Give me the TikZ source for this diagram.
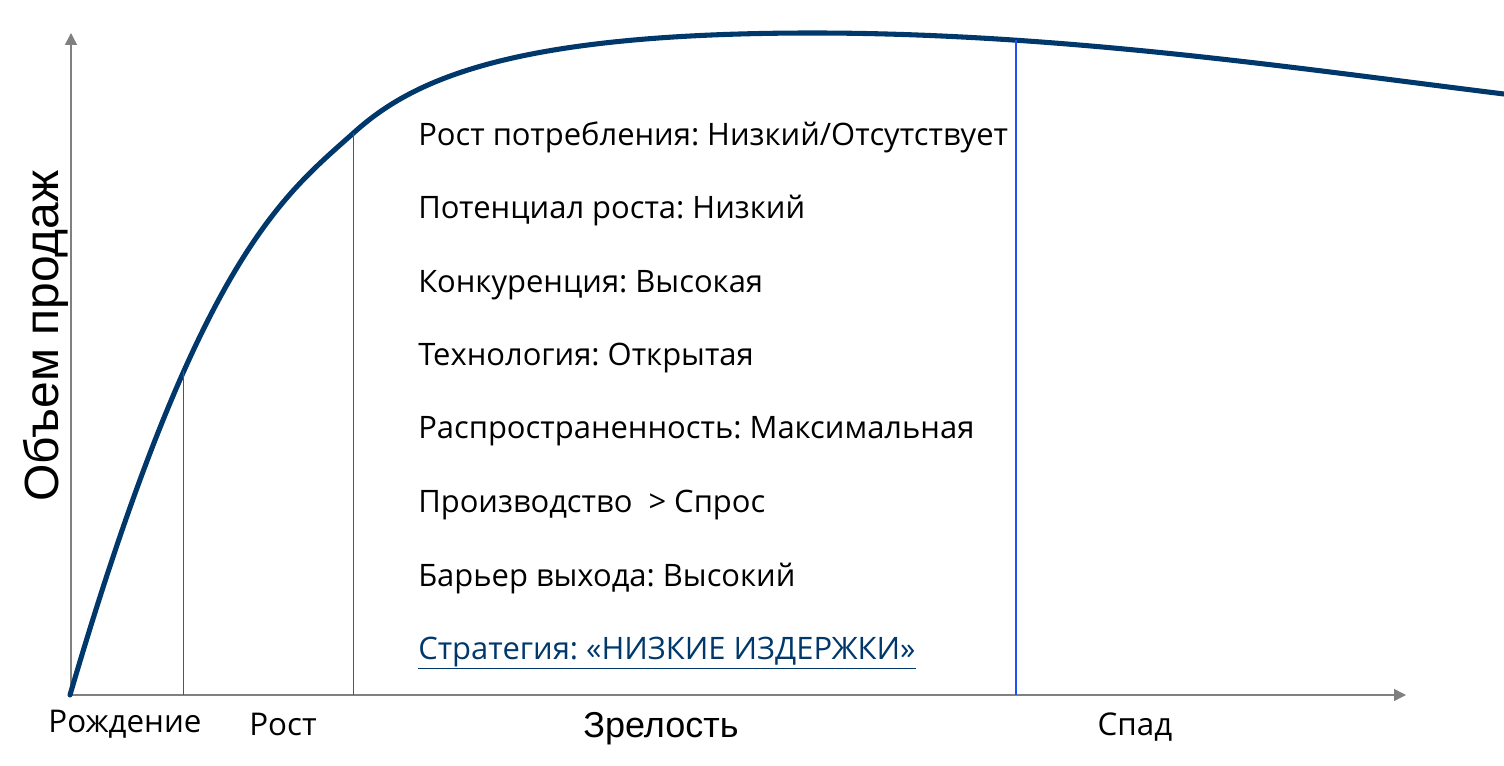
\documentclass[tikz,border=0pt]{standalone}
\usepackage{fontspec}
\setmainfont{Open Sans}
\newfontfamily\axisfont{Liberation Sans}
\usetikzlibrary{arrows.meta}
\definecolor{curveNavy}{HTML}{00386B}
\definecolor{stageBlue}{HTML}{1F50F5}
\definecolor{axisGray}{HTML}{808080}
\frenchspacing

\begin{document}
\begin{tikzpicture}[
    x=0.75pt, y=-0.75pt,
    axis/.style={draw=axisGray, line width=1.1pt,
                 -{Triangle[length=9pt, width=9pt]}},
    curve/.style={draw=curveNavy, line width=3.8pt, line cap=round},
    stage/.style={draw=stageBlue, line width=1.2pt},
    fact/.style={anchor=base west, inner sep=0pt, font=\fontsize{23.2}{27}\selectfont},
    phase/.style={anchor=base, inner sep=0pt, font=\fontsize{23.5}{27}\selectfont},
  ]
    \useasboundingbox (0,0) rectangle (1504,766);

    \coordinate (o)  at (71,695);
    \coordinate (yt) at (71,33);
    \coordinate (xt) at (1406,695);
    \coordinate (c2) at (353.5,133);
    \coordinate (top) at (813,33);

    \draw[axis] (o) -- (yt);
    \draw[axis] (o) -- (xt);

    \draw[curve] (70,695) .. controls (198,258) and (283,196) .. coordinate[pos=0.33] (c1) (c2)
                 .. controls (413,79) and (513,33) .. (top)
                 .. controls (1063,33) and (1304,69.4) .. coordinate[pos=0.274] (c3) (1504,94);

    \draw[stage] (c1) -- (c1 |- o);
    \draw[stage] (c2) -- (c2 |- o);
    \draw[stage] (c3) -- (c3 |- o);

    \node[anchor=base, rotate=90, inner sep=0pt,
          font=\axisfont\fontsize{36}{40}\selectfont] (ylbl) at (58,336) {Объем продаж};

    \node[phase] (birth)  at (125,732) {Рождение};
    \node[phase] (growth) at (283,735) {Рост};
    \node[phase, font=\axisfont\fontsize{27}{30}\selectfont] (mature) at (661,737) {Зрелость};
    \node[phase] (decl)   at (1135,735) {Спад};

    \node[fact] (f1) at (418,146) {Рост потребления: Низкий/Отсутствует};
    \node[fact] (f2) at (418,219) {Потенциал роста: Низкий};
    \node[fact] (f3) at (418,293) {Конкуренция: Высокая};
    \node[fact] (f4) at (418,366) {Технология: Открытая};
    \node[fact] (f5) at (418,439) {Распространенность: Максимальная};
    \node[fact] (f6) at (418,513) {Производство~\ > Спрос};
    \node[fact] (f7) at (418,586) {Барьер выхода: Высокий};
    \node[fact, text=curveNavy] (f8) at (418,659) {\underline{Стратегия: «НИЗКИЕ ИЗДЕРЖКИ»}};
\end{tikzpicture}
\end{document}
